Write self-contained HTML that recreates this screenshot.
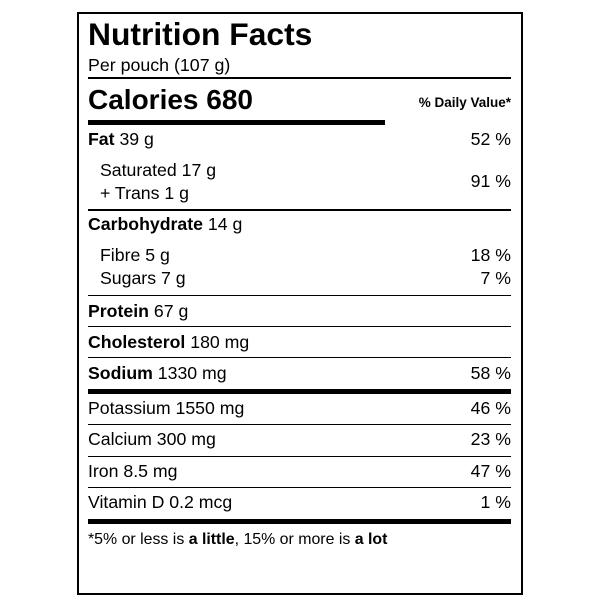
<!DOCTYPE html>
<html><head><meta charset="utf-8"><style>
html,body{margin:0;padding:0;background:#fff;}
body{width:600px;height:600px;position:relative;overflow:hidden;font-family:"Liberation Sans",Arial,sans-serif;color:#000;}
.box{position:absolute;left:77px;top:12px;width:442px;height:579px;border:2px solid #000;box-sizing:content-box;}
.t{position:absolute;line-height:1;white-space:nowrap;}
.r{position:absolute;right:89px;line-height:1;white-space:nowrap;text-align:right;}
.ln{position:absolute;left:88px;width:423px;background:#000;}
b{font-weight:bold;}
.m{font-size:17.7px;}
</style></head><body>
<div class="box"></div>
<div class="t" style="left:88px;top:19px;font-size:31.8px;font-weight:bold;">Nutrition Facts</div>
<div class="t" style="left:88px;top:57px;font-size:17.8px;">Per pouch (107 g)</div>
<div class="ln" style="top:77px;height:2px;"></div>
<div class="t" style="left:88px;top:86px;font-size:28px;font-weight:bold;">Calories 680</div>
<div class="r" style="top:96px;font-size:13.5px;font-weight:bold;">% Daily Value*</div>
<div class="ln" style="top:120px;height:5px;width:297px;"></div>

<div class="t m" style="left:88px;top:131px;"><b>Fat</b> 39 g</div>
<div class="r m" style="top:131px;">52 %</div>
<div class="t m" style="left:100px;top:162px;">Saturated 17 g</div>
<div class="t m" style="left:100px;top:185px;">+ Trans 1 g</div>
<div class="r m" style="top:173px;">91 %</div>
<div class="ln" style="top:209px;height:2px;"></div>

<div class="t m" style="left:88px;top:216px;"><b>Carbohydrate</b> 14 g</div>
<div class="t m" style="left:100px;top:247px;">Fibre 5 g</div>
<div class="r m" style="top:247px;">18 %</div>
<div class="t m" style="left:100px;top:270px;">Sugars 7 g</div>
<div class="r m" style="top:270px;">7 %</div>
<div class="ln" style="top:295px;height:1px;"></div>

<div class="t m" style="left:88px;top:303px;"><b>Protein</b> 67 g</div>
<div class="ln" style="top:326px;height:1px;"></div>
<div class="t m" style="left:88px;top:334px;"><b>Cholesterol</b> 180 mg</div>
<div class="ln" style="top:357px;height:1px;"></div>
<div class="t m" style="left:88px;top:365px;"><b>Sodium</b> 1330 mg</div>
<div class="r m" style="top:365px;">58 %</div>
<div class="ln" style="top:389px;height:5px;"></div>

<div class="t m" style="left:88px;top:400px;">Potassium 1550 mg</div>
<div class="r m" style="top:400px;">46 %</div>
<div class="ln" style="top:424px;height:1px;"></div>
<div class="t m" style="left:88px;top:431px;">Calcium 300 mg</div>
<div class="r m" style="top:431px;">23 %</div>
<div class="ln" style="top:456px;height:1px;"></div>
<div class="t m" style="left:88px;top:463px;">Iron 8.5 mg</div>
<div class="r m" style="top:463px;">47 %</div>
<div class="ln" style="top:487px;height:1px;"></div>
<div class="t m" style="left:88px;top:494px;">Vitamin D 0.2 mcg</div>
<div class="r m" style="top:494px;">1 %</div>
<div class="ln" style="top:519px;height:5px;"></div>

<div class="t" style="left:88px;top:532px;font-size:15.9px;">*5% or less is <b>a little</b>, 15% or more is <b>a lot</b></div>
</body></html>
